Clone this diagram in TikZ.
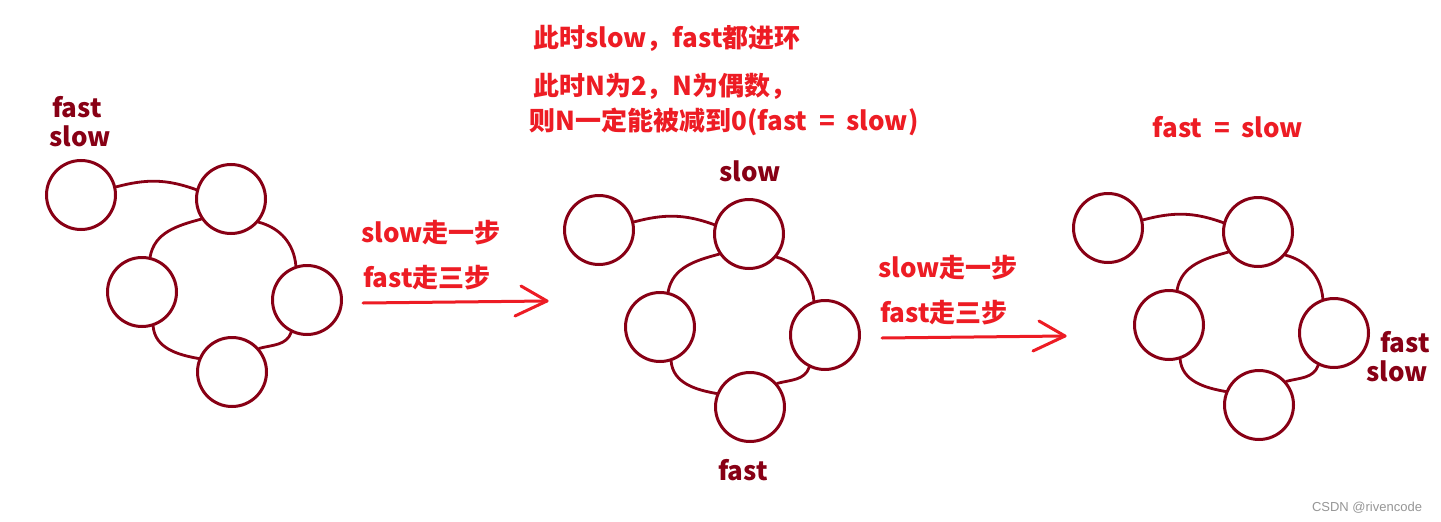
\documentclass[tikz,border=0pt]{standalone}
\usepackage{fontspec}
\setmainfont{Noto Sans CJK SC}
\newfontfamily\wmfont{Liberation Sans}
\definecolor{dred}{RGB}{136,0,21}
\definecolor{pred}{RGB}{237,28,36}
\definecolor{wmgrey}{RGB}{150,150,150}
\newcommand\ringgroup[3]{%
\begin{scope}[shift={(#2,#3)}]
\node[ring] (#1A) at (81,195) {};
\node[ring] (#1B) at (231,199) {};
\node[ring] (#1C) at (142,292) {};
\node[ring] (#1D) at (307,300) {};
\node[ring] (#1E) at (232,372) {};
\draw[link] (#1A.13) to[out=15,in=160] (#1B.165);
\draw[link] (#1B.214) to[out=195,in=80] (#1C.77);
\draw[link] (#1B.-40) to[out=-15,in=95] (#1D.108);
\draw[link] (#1C.-72) to[out=-85,in=170] (#1E.158);
\draw[link] (#1D.244) to[out=-110,in=15] (#1E.41);
\end{scope}}
\newcommand\wideeq{\hspace{0.45em}=\hspace{0.45em}}
\begin{document}
\begin{tikzpicture}[x=1pt,y=-1pt,
  ring/.style={circle,draw=dred,line width=3pt,minimum size=69pt,inner sep=0pt},
  link/.style={draw=dred,line width=2.8pt,line cap=round},
  lab/.style={anchor=base,text=dred,font=\fontsize{26}{28}\selectfont\bfseries,inner sep=0pt},
  rtxt/.style={anchor=base,text=pred,font=\fontsize{26}{28}\selectfont\bfseries,inner sep=0pt},
  rarrow/.style={draw=pred,line width=3pt,line cap=round,line join=round}]
\useasboundingbox (0,0) rectangle (1441,522);
\fill[white] (0,0) rectangle (1441,522);
\ringgroup{g}{0}{0}
\ringgroup{h}{518}{35}
\ringgroup{k}{1027}{33}
% labels
\node[lab] (l1f) at (77,117) {fast};
\node[lab] (l1s) at (80,146) {slow};
\node[lab] (l2s) at (750,181) {slow};
\node[lab] (l2f) at (743,480) {fast};
\node[lab] (l3f) at (1405,352) {fast};
\node[lab] (l3s) at (1397,381) {slow};
% red texts
\node[rtxt] (t1) at (667,47) {此时slow，fast都进环};
\node[rtxt] (t2) at (665,95) {此时N为2，N为偶数，};
\node[rtxt] (t3) at (724,130) {则N一定能被减到0(fast\wideeq slow)};
\node[rtxt] (t4) at (1228,137) {fast\wideeq slow};
\node[rtxt] (s1) at (431,242) {slow走一步};
\node[rtxt] (f1) at (427,287) {fast走三步};
\node[rtxt] (s2) at (948,277) {slow走一步};
\node[rtxt] (f2) at (944,322) {fast走三步};
% arrows
\coordinate (a1s) at (363,303);
\coordinate (a1t) at (547,301);
\coordinate (a1u) at (521,286);
\coordinate (a1l) at (515,316);
\draw[rarrow] (a1s) -- (a1t);
\draw[rarrow] (a1u) -- (a1t) -- (a1l);
\coordinate (a2s) at (882,338);
\coordinate (a2t) at (1065,336);
\coordinate (a2u) at (1039,321);
\coordinate (a2l) at (1033,351);
\draw[rarrow] (a2s) -- (a2t);
\draw[rarrow] (a2u) -- (a2t) -- (a2l);
% watermark
\node[anchor=base,text=wmgrey,font=\wmfont\fontsize{13}{15}\selectfont,inner sep=0pt] (wm) at (1367,511) {CSDN @rivencode};
\end{tikzpicture}
\end{document}
